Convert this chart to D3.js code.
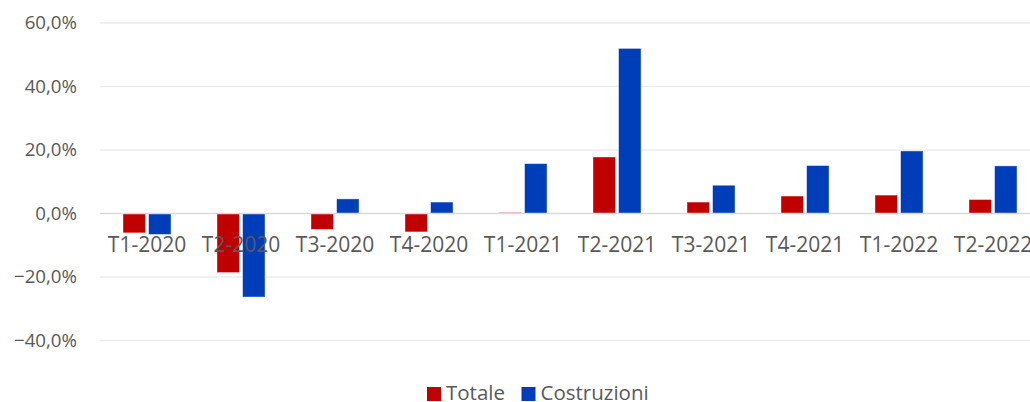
<!DOCTYPE html>
<html><head><meta charset="utf-8">
<script src="https://cdn.jsdelivr.net/npm/d3@7"></script>
<style>body{margin:0;background:#fff;overflow:hidden}svg{display:block}</style>
</head><body>
<svg id="c" width="1030" height="402"></svg>
<script>
const categories = ["T1-2020","T2-2020","T3-2020","T4-2020","T1-2021","T2-2021","T3-2021","T4-2021","T1-2022","T2-2022"];
const totale = [-6.1,-18.6,-5.0,-5.8,0.3,17.8,3.6,5.5,5.8,4.4];
const costruzioni = [-6.6,-26.3,4.6,3.6,15.7,52.0,8.9,15.1,19.7,15.0];
const yTicks = [-40,-20,0,20,40,60];
const seriesNames = ["Totale","Costruzioni"];
const colors = ["#C00000","#003DB8"];

const svg = d3.select("#c");
const font = "'Open Sans', sans-serif";
const x = d3.scaleBand().domain(categories).range([100,1040]).paddingInner(0).paddingOuter(0);
const y = d3.scaleLinear().domain([-40,60]).range([340.5,23]);
const sub = d3.scaleBand().domain(seriesNames).range([23,71]).paddingInner(0.125);

// gridlines
svg.append("g").selectAll("line").data(yTicks.filter(d=>d!==0)).join("line")
  .attr("x1",100).attr("x2",1030).attr("y1",d=>y(d)).attr("y2",d=>y(d))
  .attr("stroke","#EDEDED").attr("stroke-width",1.5);

// y labels
const yAxis = d3.axisLeft(y).tickValues(yTicks).tickSize(0).tickPadding(0)
  .tickFormat(d=>d3.format(".1f")(d).replace(".",",")+"%");
const ga = svg.append("g").attr("transform","translate(77,0)").call(yAxis);
ga.select(".domain").remove();
ga.selectAll("text").attr("font-family",font).attr("font-size",18.7).attr("fill","#595959");

// bars
const data = categories.map((c,i)=>({c, vals:[totale[i],costruzioni[i]]}));
const g = svg.append("g");
data.forEach(d=>{
  d.vals.forEach((v,j)=>{
    g.append("rect")
      .attr("x",x(d.c)+sub(seriesNames[j]))
      .attr("width",sub.bandwidth())
      .attr("y",Math.min(y(v),y(0)))
      .attr("height",Math.abs(y(v)-y(0)))
      .attr("fill",colors[j])
      .attr("stroke","rgba(255,255,255,0.5)").attr("stroke-width",0.8);
  });
});

// zero line
svg.append("line").attr("x1",100).attr("x2",1030).attr("y1",y(0)).attr("y2",y(0))
  .attr("stroke","#D9D9D9").attr("stroke-width",1.5);

// x labels
const xAxis = d3.axisBottom(x).tickSize(0).tickPadding(0);
const gx = svg.append("g").attr("transform","translate(0,"+(y(0)+23.5)+")").call(xAxis);
gx.select(".domain").remove();
gx.selectAll("text").attr("font-family",font).attr("font-size",21).attr("fill","#595959");

// legend
const leg = svg.append("g");
const lx = [427,521.5];
seriesNames.forEach((n,i)=>{
  leg.append("rect").attr("x",lx[i]).attr("y",387).attr("width",14).attr("height",14).attr("fill",colors[i]);
  leg.append("text").attr("x",lx[i]+19).attr("y",399.5)
    .attr("font-family",font).attr("font-size",20.5).attr("fill","#595959").text(n);
});
</script>
</body></html>
